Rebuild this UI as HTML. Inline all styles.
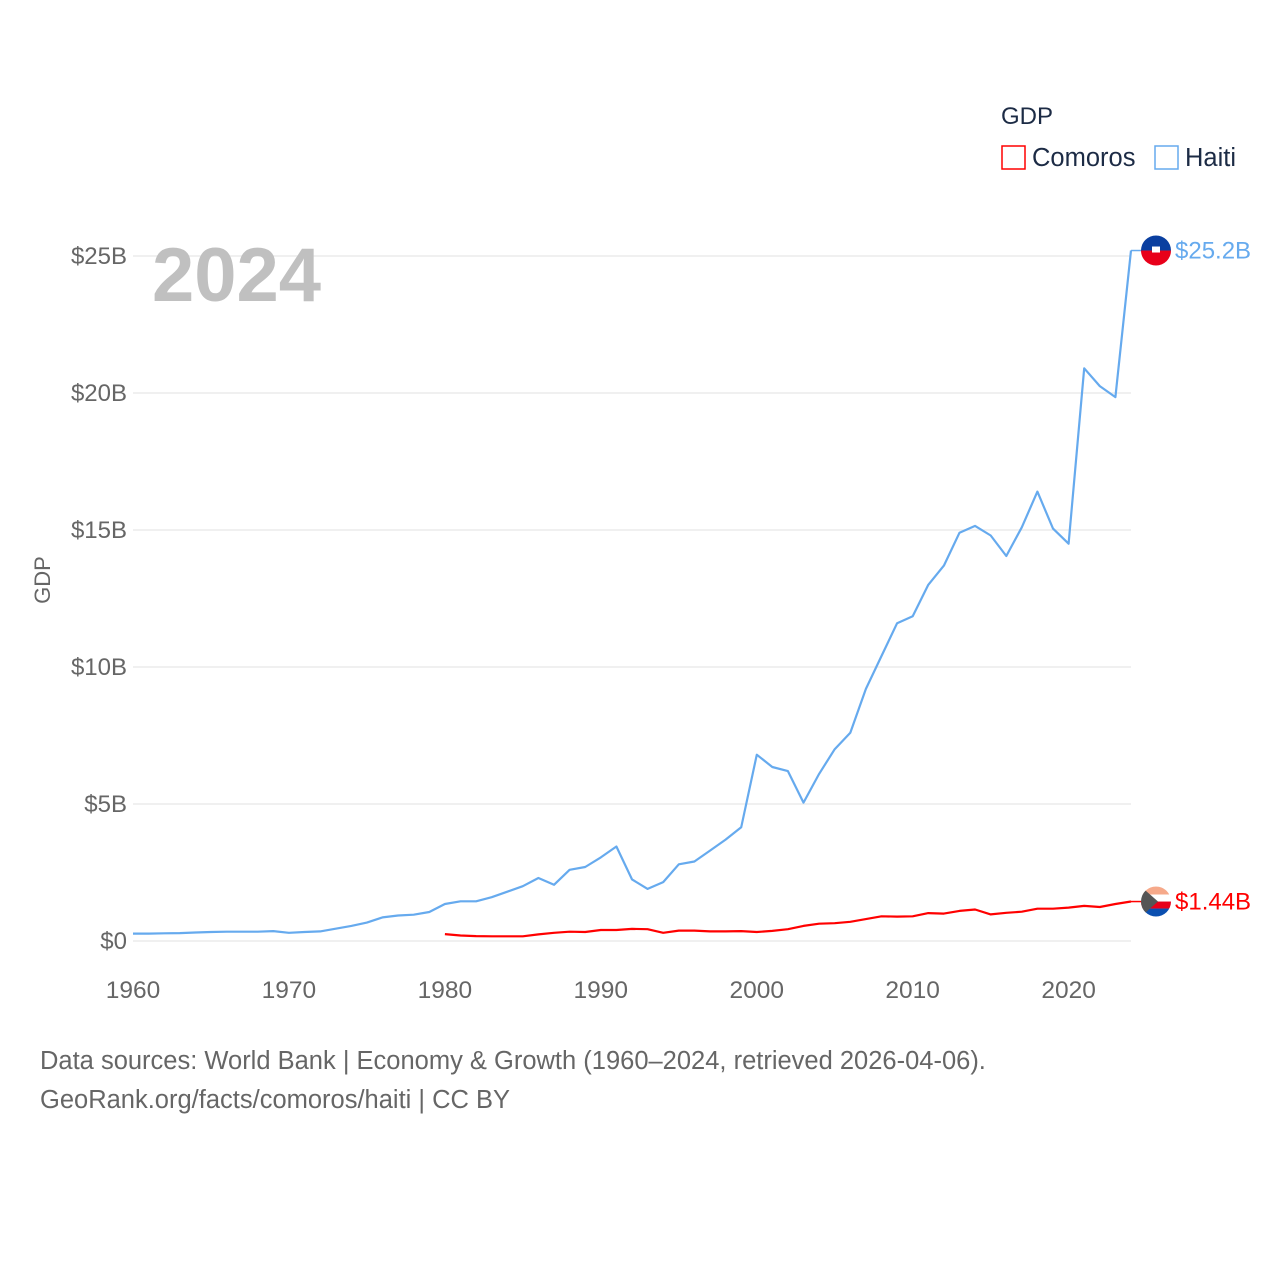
<!DOCTYPE html>
<html><head><meta charset="utf-8"><style>
body{margin:0;background:#fff;width:1280px;height:1280px;overflow:hidden;font-family:"Liberation Sans",sans-serif}
svg{display:block}
</style></head><body>
<svg id="chart" width="1280" height="1280">
<defs>
<clipPath id="hclip"><circle id="hcirc" cx="1156" cy="0" r="15"/></clipPath>
<clipPath id="cclip"><circle id="ccirc" cx="1156" cy="0" r="15"/></clipPath>
</defs>
<g id="grid"></g>
<g id="yticks"></g>
<g id="xticks"></g>
<text x="50" y="580" transform="rotate(-90 50 580)" text-anchor="middle" font-size="22" fill="#666">GDP</text>
<text x="152" y="301" font-size="76" font-weight="bold" fill="#c0c0c0">2024</text>
<g>
<text x="1001" y="124" font-size="24" fill="#1c2b45">GDP</text>
<g><rect x="1002" y="146" width="23" height="23" fill="none" stroke="#f00" stroke-width="1.5"/><text x="1032" y="166" font-size="25.5" fill="#1c2b45">Comoros</text></g>
<g><rect x="1155" y="146" width="23" height="23" fill="none" stroke="#66aaee" stroke-width="1.5"/><text x="1185" y="166" font-size="25.5" fill="#1c2b45">Haiti</text></g>
</g>
<g id="series"></g>
<text x="40" y="1069" font-size="25.5" fill="#666">Data sources: World Bank | Economy &amp; Growth (1960–2024, retrieved 2026-04-06).</text>
<text x="40" y="1108" font-size="25.5" fill="#666">GeoRank.org/facts/comoros/haiti | CC BY</text>
</svg>
<script>
const haitiYears=[1960,1961,1962,1963,1964,1965,1966,1967,1968,1969,1970,1971,1972,1973,1974,1975,1976,1977,1978,1979,1980,1981,1982,1983,1984,1985,1986,1987,1988,1989,1990,1991,1992,1993,1994,1995,1996,1997,1998,1999,2000,2001,2002,2003,2004,2005,2006,2007,2008,2009,2010,2011,2012,2013,2014,2015,2016,2017,2018,2019,2020,2021,2022,2023,2024];
const haitiValues=[0.27,0.27,0.28,0.29,0.31,0.33,0.34,0.34,0.34,0.36,0.30,0.33,0.35,0.45,0.55,0.67,0.86,0.93,0.96,1.06,1.35,1.45,1.45,1.6,1.8,2.0,2.3,2.05,2.6,2.7,3.05,3.45,2.25,1.9,2.15,2.8,2.9,3.3,3.7,4.15,6.8,6.35,6.2,5.05,6.1,7.0,7.6,9.2,10.4,11.6,11.85,13.0,13.7,14.9,15.15,14.8,14.05,15.1,16.4,15.05,14.5,20.9,20.25,19.85,25.2];
const comorosYears=[1980,1981,1982,1983,1984,1985,1986,1987,1988,1989,1990,1991,1992,1993,1994,1995,1996,1997,1998,1999,2000,2001,2002,2003,2004,2005,2006,2007,2008,2009,2010,2011,2012,2013,2014,2015,2016,2017,2018,2019,2020,2021,2022,2023,2024];
const comorosValues=[0.25,0.2,0.18,0.17,0.17,0.17,0.24,0.3,0.34,0.33,0.4,0.4,0.44,0.43,0.3,0.38,0.38,0.35,0.35,0.36,0.33,0.37,0.43,0.55,0.63,0.65,0.7,0.8,0.9,0.89,0.9,1.02,1.0,1.1,1.15,0.97,1.03,1.07,1.18,1.18,1.22,1.28,1.24,1.35,1.44];
const yTickValues=[0,5,10,15,20,25];
const yTickLabels=["$0","$5B","$10B","$15B","$20B","$25B"];
const xTickValues=[1960,1970,1980,1990,2000,2010,2020];
const endLabels=["$25.2B","$1.44B"];

const NS="http://www.w3.org/2000/svg";
const X0=133,X1=1131,Y0=941,Y1=256;
function xs(y){return X0+(y-1960)/(2024-1960)*(X1-X0);}
function ys(v){return Y0-v/25*(Y0-Y1);}
function mk(tag,attrs,parent){const e=document.createElementNS(NS,tag);for(const k in attrs)e.setAttribute(k,attrs[k]);parent.appendChild(e);return e;}
const grid=document.getElementById('grid'),yt=document.getElementById('yticks'),xt=document.getElementById('xticks'),ser=document.getElementById('series');
yTickValues.forEach((v,i)=>{
  const l=mk('line',{x1:X0,x2:X1,y1:ys(v),y2:ys(v),stroke:'#ececec','stroke-width':1.5},grid);
  
  
  const t=mk('text',{x:127,y:ys(v)+8,'text-anchor':'end','font-size':24,fill:'#666'},yt);
  t.textContent=yTickLabels[i];
  
  
});
xTickValues.forEach(v=>{
  const t=mk('text',{x:xs(v),y:998,'text-anchor':'middle','font-size':24.5,fill:'#666'},xt);
  t.textContent=v;
  
  
});
function line(years,vals,color,name){
  const d=years.map((y,i)=>(i?'L':'M')+xs(y).toFixed(1)+','+ys(vals[i]).toFixed(1)).join('');
  const p=mk('path',{d:d,fill:'none',stroke:color,'stroke-width':2.2,'stroke-linejoin':'round'},ser);
  
  
}
line(haitiYears,haitiValues,'#66aaee','haiti-line');
line(comorosYears,comorosValues,'#ff0000','comoros-line');
const hv=haitiValues[haitiValues.length-1],cv=comorosValues[comorosValues.length-1];
const hy=ys(hv),cy=ys(cv);
document.getElementById('hcirc').setAttribute('cy',hy);
document.getElementById('ccirc').setAttribute('cy',cy);
const hg=mk('g',{},ser);


mk('line',{x1:X1,x2:1142,y1:hy,y2:hy,stroke:'#66aaee','stroke-width':1.5},hg);
const hf=mk('g',{'clip-path':'url(#hclip)'},hg);
mk('rect',{x:1141,y:hy-15,width:30,height:15,fill:'#0a3fa0'},hf);
mk('rect',{x:1141,y:hy,width:30,height:15,fill:'#e8001a'},hf);
mk('rect',{x:1152,y:hy-4,width:8,height:6,fill:'#fff'},hf);
const ht=mk('text',{x:1175,y:hy+8,'font-size':24,fill:'#66aaee'},ser);
ht.textContent=endLabels[0];


const cg=mk('g',{},ser);


mk('line',{x1:X1,x2:1142,y1:cy,y2:cy,stroke:'#ff0000','stroke-width':1.5},cg);
const cf=mk('g',{'clip-path':'url(#cclip)'},cg);
mk('rect',{x:1141,y:cy-15,width:30,height:8,fill:'#f6a98a'},cf);
mk('rect',{x:1141,y:cy-7,width:30,height:7,fill:'#fff'},cf);
mk('rect',{x:1141,y:cy,width:30,height:7,fill:'#e8001a'},cf);
mk('rect',{x:1141,y:cy+7,width:30,height:8,fill:'#0a4fb0'},cf);
mk('path',{d:`M1141,${cy-15} L1158,${cy} L1141,${cy+15} z`,fill:'#555'},cf);
const ct=mk('text',{x:1175,y:cy+8,'font-size':24,fill:'#ff0000'},ser);
ct.textContent=endLabels[1];


</script>
</body></html>
